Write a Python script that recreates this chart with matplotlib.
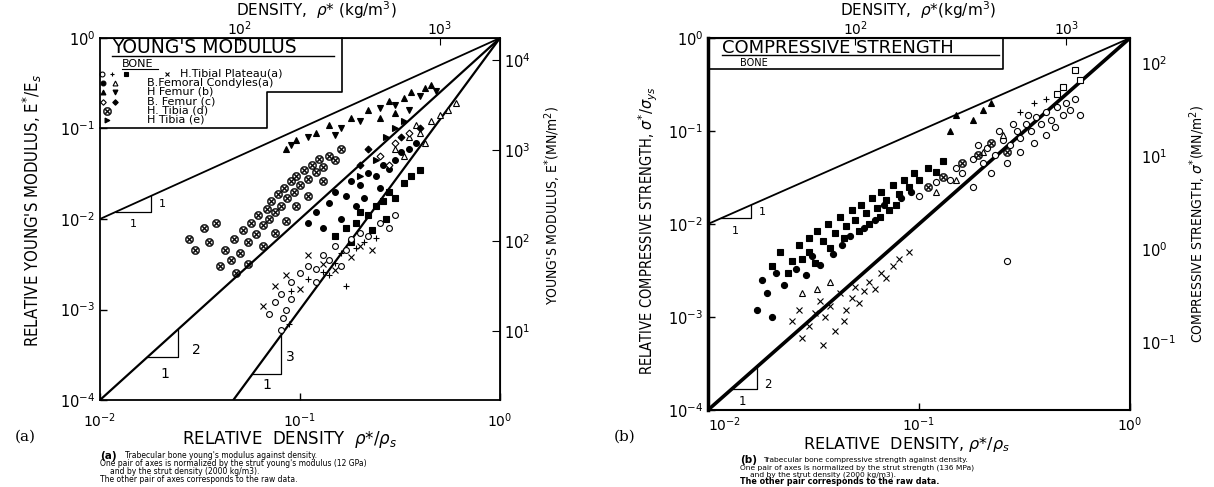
import matplotlib
matplotlib.use("Agg")
import matplotlib.pyplot as plt
from matplotlib.ticker import NullLocator, FixedLocator, LogFormatterSciNotation

W, H = 1214, 487

# ---------------- data: panel (a) Young's modulus (x = rho*/rho_s, y = E*/E_s) ----------------
a_tibia_d_x = [0.028, 0.030, 0.033, 0.035, 0.038, 0.040, 0.042, 0.045, 0.047, 0.050, 0.052, 0.055,
               0.057, 0.060, 0.062, 0.065, 0.068, 0.070, 0.072, 0.075, 0.078, 0.080, 0.083, 0.086,
               0.090, 0.093, 0.096, 0.100, 0.105, 0.110, 0.115, 0.120, 0.125, 0.130, 0.140, 0.150,
               0.160, 0.048, 0.055, 0.065, 0.075, 0.085, 0.095, 0.110, 0.130]
a_tibia_d_y = [0.0060, 0.0045, 0.0080, 0.0055, 0.0090, 0.0030, 0.0045, 0.0035, 0.0060, 0.0042, 0.0075, 0.0055,
               0.0090, 0.0068, 0.011, 0.0085, 0.013, 0.0100, 0.016, 0.012, 0.019, 0.014, 0.022, 0.017,
               0.026, 0.020, 0.030, 0.024, 0.035, 0.028, 0.040, 0.033, 0.046, 0.038, 0.050, 0.045,
               0.060, 0.0025, 0.0032, 0.0050, 0.0070, 0.0095, 0.014, 0.018, 0.026]
a_femur_b_up_x = [0.085, 0.095, 0.12, 0.14, 0.18, 0.22, 0.28, 0.33, 0.36, 0.42, 0.45, 0.25, 0.30]
a_femur_b_up_y = [0.060, 0.075, 0.090, 0.110, 0.130, 0.160, 0.200, 0.220, 0.250, 0.280, 0.300, 0.130, 0.150]
a_femur_b_dn_x = [0.090, 0.11, 0.16, 0.20, 0.25, 0.30, 0.40, 0.35, 0.15, 0.48]
a_femur_b_dn_y = [0.065, 0.080, 0.100, 0.120, 0.170, 0.180, 0.230, 0.160, 0.085, 0.260]
a_condyles_x = [0.12, 0.14, 0.15, 0.17, 0.18, 0.20, 0.22, 0.24, 0.26, 0.28, 0.30, 0.32, 0.35, 0.38,
                0.16, 0.19, 0.21, 0.25, 0.13, 0.11]
a_condyles_y = [0.012, 0.015, 0.020, 0.018, 0.026, 0.024, 0.032, 0.030, 0.040, 0.036, 0.045, 0.055, 0.060, 0.070,
                0.010, 0.014, 0.017, 0.022, 0.008, 0.009]
a_plateau_sq_x = [0.15, 0.17, 0.19, 0.20, 0.22, 0.24, 0.26, 0.28, 0.30, 0.33, 0.36, 0.40, 0.18, 0.23, 0.27]
a_plateau_sq_y = [0.0065, 0.0080, 0.0090, 0.012, 0.011, 0.014, 0.016, 0.020, 0.017, 0.025, 0.030, 0.035,
                  0.0055, 0.0075, 0.0100]
a_plateau_o_x = [0.070, 0.075, 0.080, 0.090, 0.10, 0.11, 0.12, 0.13, 0.14, 0.15, 0.17, 0.18, 0.20, 0.22,
                 0.25, 0.28, 0.30, 0.12, 0.16, 0.09, 0.082, 0.085, 0.080]
a_plateau_o_y = [0.0009, 0.0012, 0.0015, 0.0020, 0.0025, 0.0030, 0.0028, 0.0040, 0.0035, 0.0050, 0.0045, 0.0060,
                 0.0070, 0.0065, 0.0090, 0.0080, 0.0110, 0.0020, 0.0030, 0.0013, 0.0008, 0.0010, 0.0006]
a_plateau_plus_x = [0.09, 0.11, 0.13, 0.15, 0.16, 0.19, 0.21, 0.24, 0.17, 0.14, 0.088]
a_plateau_plus_y = [0.0016, 0.0022, 0.0026, 0.0033, 0.0042, 0.0048, 0.0055, 0.0062, 0.0018, 0.0024, 0.0007]
a_plateau_x_x = [0.065, 0.075, 0.085, 0.10, 0.11, 0.13, 0.15, 0.18, 0.20, 0.23]
a_plateau_x_y = [0.0011, 0.0018, 0.0024, 0.0017, 0.0040, 0.0032, 0.0027, 0.0038, 0.0050, 0.0045]
a_condyles_tri_x = [0.30, 0.35, 0.40, 0.45, 0.50, 0.38, 0.42, 0.33, 0.55, 0.60]
a_condyles_tri_y = [0.060, 0.080, 0.090, 0.120, 0.140, 0.110, 0.070, 0.050, 0.160, 0.190]
a_femur_c_open_x = [0.25, 0.30, 0.35, 0.28]
a_femur_c_open_y = [0.050, 0.070, 0.090, 0.040]
a_femur_c_fill_x = [0.20, 0.22, 0.32, 0.40]
a_femur_c_fill_y = [0.040, 0.060, 0.080, 0.100]
a_tibia_e_x = [0.20, 0.24, 0.30, 0.27, 0.33]
a_tibia_e_y = [0.030, 0.045, 0.100, 0.080, 0.120]

# ---------------- data: panel (b) compressive strength (x = rho*/rho_s, y = sigma*/sigma_ys) ----------------
b_sq_x = [0.020, 0.022, 0.025, 0.027, 0.030, 0.030, 0.033, 0.035, 0.037, 0.040, 0.042, 0.045, 0.048, 0.050,
          0.053, 0.056, 0.060, 0.063, 0.066, 0.070, 0.075, 0.080, 0.085, 0.090, 0.095, 0.10, 0.11, 0.12,
          0.13, 0.024, 0.028, 0.032, 0.038, 0.044, 0.052, 0.058, 0.065, 0.072, 0.078]
b_sq_y = [0.0035, 0.0050, 0.0040, 0.0060, 0.0070, 0.0050, 0.0085, 0.0065, 0.010, 0.0080, 0.012, 0.0095, 0.014,
          0.011, 0.016, 0.013, 0.019, 0.015, 0.022, 0.018, 0.026, 0.021, 0.030, 0.025, 0.035, 0.030, 0.040,
          0.036, 0.048, 0.0030, 0.0042, 0.0038, 0.0055, 0.0070, 0.0085, 0.010, 0.012, 0.014, 0.016]
b_dot_x = [0.018, 0.019, 0.021, 0.023, 0.026, 0.029, 0.031, 0.034, 0.039, 0.043, 0.047, 0.055, 0.062,
           0.068, 0.082, 0.092, 0.017, 0.020]
b_dot_y = [0.0025, 0.0018, 0.0030, 0.0022, 0.0033, 0.0028, 0.0045, 0.0036, 0.0048, 0.0060, 0.0075, 0.0090,
           0.011, 0.016, 0.019, 0.022, 0.0012, 0.0010]
b_cross_x = [0.025, 0.027, 0.030, 0.032, 0.034, 0.036, 0.038, 0.040, 0.042, 0.045, 0.048, 0.050, 0.052,
             0.055, 0.058, 0.062, 0.066, 0.070, 0.028, 0.035, 0.044, 0.075, 0.080, 0.090]
b_cross_y = [0.0009, 0.0012, 0.0008, 0.0011, 0.0015, 0.0010, 0.0013, 0.0007, 0.0018, 0.0012, 0.0016, 0.0021,
             0.0014, 0.0019, 0.0024, 0.0020, 0.0030, 0.0026, 0.0006, 0.0005, 0.0009, 0.0035, 0.0042, 0.0050]
b_circ_x = [0.10, 0.12, 0.14, 0.15, 0.16, 0.18, 0.20, 0.21, 0.23, 0.25, 0.27, 0.29, 0.30, 0.32, 0.34, 0.36,
            0.38, 0.40, 0.42, 0.45, 0.48, 0.50, 0.52, 0.22, 0.26, 0.30, 0.35, 0.40, 0.33, 0.28, 0.24, 0.19,
            0.55, 0.18, 0.26, 0.44, 0.58]
b_circ_y = [0.020, 0.028, 0.030, 0.040, 0.035, 0.050, 0.045, 0.065, 0.055, 0.080, 0.070, 0.100, 0.085, 0.120,
            0.100, 0.140, 0.120, 0.160, 0.130, 0.180, 0.150, 0.200, 0.170, 0.035, 0.045, 0.060, 0.075, 0.090,
            0.150, 0.120, 0.100, 0.070, 0.220, 0.025, 0.004, 0.110, 0.150]
b_tri_open_x = [0.028, 0.033, 0.038, 0.12, 0.15, 0.20, 0.25]
b_tri_open_y = [0.0018, 0.0020, 0.0024, 0.022, 0.030, 0.060, 0.090]
b_otimes_x = [0.11, 0.13, 0.16, 0.19, 0.22, 0.26]
b_otimes_y = [0.025, 0.032, 0.045, 0.055, 0.075, 0.060]
b_tri_fill_x = [0.15, 0.18, 0.22, 0.20, 0.14]
b_tri_fill_y = [0.150, 0.130, 0.200, 0.170, 0.100]
b_sq_open_x = [0.55, 0.58, 0.48, 0.45]
b_sq_open_y = [0.450, 0.350, 0.300, 0.250]
b_plus_x = [0.35, 0.40, 0.30]
b_plus_y = [0.200, 0.220, 0.160]

decade_ticks = [1e-4, 1e-3, 1e-2, 1e-1, 1]
x_ticks = [0.01, 0.1, 1]
rho_s = 2000.0        # kg/m3
E_axis_scale = 17500.0  # MN/m2 (as drawn on the right-hand axis)
S_axis_scale = 186.0    # MN/m2 (as drawn on the right-hand axis)

fig = plt.figure(figsize=(W / 100, H / 100), dpi=100)
fig.patch.set_facecolor("white")


def rect(l, t, r, b):
    return [l / W, 1 - b / H, (r - l) / W, (b - t) / H]


def ftext(x, y, s, **kw):
    kw.setdefault("ha", "center")
    kw.setdefault("va", "center")
    fig.text(x / W, 1 - y / H, s, **kw)


COND = dict(family="DejaVu Sans", fontstretch="condensed")


def style_axes(ax, lw, pad):
    ax.set_xscale("log")
    ax.set_yscale("log")
    ax.set_xlim(0.01, 1)
    ax.set_ylim(1e-4, 1)
    ax.set_xticks(x_ticks)
    ax.set_yticks(decade_ticks)
    ax.xaxis.set_minor_locator(NullLocator())
    ax.yaxis.set_minor_locator(NullLocator())
    ax.tick_params(direction="in", length=5, width=1, labelsize=10.5, colors="black")
    ax.tick_params(axis="x", pad=pad, labelsize=10)
    for s in ax.spines.values():
        s.set_linewidth(lw)


def pts(ax, x, y, marker, filled=True, ms=4.2, mew=0.8):
    ax.plot(x, y, ls="none", marker=marker, ms=ms, mec="black",
            mfc="black" if filled else "white", mew=mew, zorder=3)


# ======================= panel (a) =======================
axL = fig.add_axes(rect(100, 38, 500, 400))
style_axes(axL, 1.3, 8)

axL.plot([0.01, 1], [0.01, 1], color="black", lw=1.3)
axL.plot([0.01, 1], [1e-4, 1], color="black", lw=1.6)
axL.plot([1e-4 ** (1 / 3), 1], [1e-4, 1], color="black", lw=1.6)

pts(axL, a_tibia_d_x, a_tibia_d_y, r"$\otimes$", filled=True, ms=6, mew=0.3)
pts(axL, a_femur_b_up_x, a_femur_b_up_y, "^")
pts(axL, a_femur_b_dn_x, a_femur_b_dn_y, "v")
pts(axL, a_condyles_x, a_condyles_y, "o")
pts(axL, a_plateau_sq_x, a_plateau_sq_y, "s", ms=3.8)
pts(axL, a_plateau_o_x, a_plateau_o_y, "o", filled=False)
pts(axL, a_plateau_plus_x, a_plateau_plus_y, "+", ms=4.5)
pts(axL, a_plateau_x_x, a_plateau_x_y, "x", ms=4)
pts(axL, a_condyles_tri_x, a_condyles_tri_y, "^", filled=False)
pts(axL, a_femur_c_open_x, a_femur_c_open_y, "D", filled=False, ms=3.5)
pts(axL, a_femur_c_fill_x, a_femur_c_fill_y, "D", ms=3.5)
pts(axL, a_tibia_e_x, a_tibia_e_y, ">")

# slope triangles
axL.plot([0.012, 0.018, 0.018], [0.012, 0.012, 0.018], color="black", lw=0.9)
axL.text(0.0147, 0.0088, "1", fontsize=8, ha="center", va="center")
axL.text(0.0205, 0.0145, "1", fontsize=8, ha="center", va="center")
axL.plot([0.0172, 0.0245, 0.0245], [0.0172 ** 2, 0.0172 ** 2, 0.0245 ** 2], color="black", lw=0.9)
axL.text(0.0305, 3.6e-4, "2", fontsize=10, ha="center", va="center")
axL.text(0.0211, 1.95e-4, "1", fontsize=10, ha="center", va="center")
axL.plot([0.058, 0.080, 0.080], [0.058 ** 3, 0.058 ** 3, 0.080 ** 3], color="black", lw=0.9)
axL.text(0.089, 3.0e-4, "3", fontsize=10, ha="center", va="center")
axL.text(0.068, 1.45e-4, "1", fontsize=10, ha="center", va="center")

# legend box
bx = [0.605, 0.605, 0.4175, 0.4175, 0.0]
by = [1.0, 0.851, 0.851, 0.751, 0.751]
axL.plot(bx, by, color="black", lw=1.2, transform=axL.transAxes, clip_on=False)
axL.text(0.03, 0.975, "YOUNG'S MODULUS", transform=axL.transAxes, fontsize=13.5, va="center", ha="left")
axL.plot([0.03, 0.585], [0.949, 0.949], color="black", lw=1, transform=axL.transAxes)
axL.text(0.055, 0.929, "BONE", transform=axL.transAxes, fontsize=8, va="center", ha="left")
axL.plot([0.055, 0.145], [0.915, 0.915], color="black", lw=0.8, transform=axL.transAxes)
rows_y = [0.901, 0.875, 0.851, 0.824, 0.799, 0.774]
legend_rows = [
    ([(0.006, "o", False), (0.030, "+", True), (0.066, "s", True), (0.168, "x", True)], 0.20, "H.Tibial Plateau(a)"),
    ([(0.008, "o", True), (0.038, "^", False)], 0.118, "B.Femoral Condyles(a)"),
    ([(0.008, "^", True), (0.038, "v", True)], 0.118, "H Femur (b)"),
    ([(0.008, "D", False), (0.038, "D", True)], 0.118, "B. Femur (c)"),
    ([(0.018, r"$\otimes$", True)], 0.118, "H. Tibia (d)"),
    ([(0.018, ">", True)], 0.118, "H Tibia (e)"),
]
for (syms, tx, label), yy in zip(legend_rows, rows_y):
    for sx, m, f in syms:
        ms = 6 if m.startswith("$") else (2.8 if m == "D" else 3.5)
        axL.plot([sx], [yy], ls="none", marker=m, ms=ms, mec="black", mfc="black" if f else "white",
                 mew=0.3 if m.startswith("$") else 0.8, transform=axL.transAxes, clip_on=False)
    axL.text(tx, yy, label, transform=axL.transAxes, fontsize=8, va="center", ha="left")

secL_x = axL.secondary_xaxis("top", functions=(lambda x: x * rho_s, lambda d: d / rho_s))
secL_x.xaxis.set_major_locator(FixedLocator([1e2, 1e3]))
secL_x.xaxis.set_major_formatter(LogFormatterSciNotation())
secL_x.xaxis.set_minor_locator(NullLocator())
secL_x.tick_params(direction="in", length=5, labelsize=10, pad=0)
secL_y = axL.secondary_yaxis("right", functions=(lambda y: y * E_axis_scale, lambda e: e / E_axis_scale))
secL_y.yaxis.set_major_locator(FixedLocator([1e1, 1e2, 1e3, 1e4]))
secL_y.yaxis.set_major_formatter(LogFormatterSciNotation())
secL_y.yaxis.set_minor_locator(NullLocator())
secL_y.tick_params(direction="in", length=6, labelsize=10.5, pad=3)

# ======================= panel (b) =======================
axR = fig.add_axes(rect(708, 38, 1130, 410))
style_axes(axR, 1.5, 4)
axR.spines["left"].set_linewidth(2.5)
axR.xaxis.get_major_ticks()[0].label1.set_horizontalalignment("left")

axR.plot([0.01, 1], [0.01, 1], color="black", lw=1.3)
axR.plot([0.01, 1], [1e-4, 1], color="black", lw=2.6)

pts(axR, b_sq_x, b_sq_y, "s", ms=4)
pts(axR, b_dot_x, b_dot_y, "o", ms=4.4)
pts(axR, b_cross_x, b_cross_y, "x", ms=4.5)
pts(axR, b_circ_x, b_circ_y, "o", filled=False, ms=4.4)
pts(axR, b_tri_open_x, b_tri_open_y, "^", filled=False, ms=3.8)
pts(axR, b_otimes_x, b_otimes_y, r"$\otimes$", ms=6, mew=0.3)
pts(axR, b_tri_fill_x, b_tri_fill_y, "^", ms=4)
pts(axR, b_sq_open_x, b_sq_open_y, "s", filled=False, ms=3.8)
pts(axR, b_plus_x, b_plus_y, "+", ms=4.5)

axR.plot([0.0115, 0.016, 0.016], [0.0115, 0.0115, 0.016], color="black", lw=0.9)
axR.text(0.0135, 0.0085, "1", fontsize=8, ha="center", va="center")
axR.text(0.018, 0.0135, "1", fontsize=8, ha="center", va="center")
axR.plot([0.013, 0.0171, 0.0171], [0.013 ** 2, 0.013 ** 2, 0.0171 ** 2], color="black", lw=0.9)
axR.text(0.0192, 1.9e-4, "2", fontsize=8.5, ha="center", va="center")
axR.text(0.0146, 1.22e-4, "1", fontsize=8.5, ha="center", va="center")

axR.plot([0.0, 0.699, 0.699], [0.917, 0.917, 1.0], color="black", lw=1.2, transform=axR.transAxes, clip_on=False)
axR.text(0.033, 0.972, "COMPRESSIVE STRENGTH", transform=axR.transAxes, fontsize=13, va="center", ha="left")
axR.plot([0.033, 0.69], [0.953, 0.953], color="black", lw=1, transform=axR.transAxes)
axR.text(0.076, 0.934, "BONE", transform=axR.transAxes, fontsize=7, va="center", ha="left")

secR_x = axR.secondary_xaxis("top", functions=(lambda x: x * rho_s, lambda d: d / rho_s))
secR_x.xaxis.set_major_locator(FixedLocator([1e2, 1e3]))
secR_x.xaxis.set_major_formatter(LogFormatterSciNotation())
secR_x.xaxis.set_minor_locator(NullLocator())
secR_x.tick_params(direction="in", length=5, labelsize=10, pad=0)
secR_y = axR.secondary_yaxis("right", functions=(lambda y: y * S_axis_scale, lambda s: s / S_axis_scale))
secR_y.yaxis.set_major_locator(FixedLocator([1e-1, 1e0, 1e1, 1e2]))
secR_y.yaxis.set_major_formatter(LogFormatterSciNotation())
secR_y.yaxis.set_minor_locator(NullLocator())
secR_y.tick_params(direction="in", length=0, labelsize=10.5, pad=8)

# ======================= labels =======================
ftext(316, 21, r"DENSITY,  $\rho$* (kg/m$^3$)", fontsize=11, va="bottom")
ftext(918, 21, r"DENSITY,  $\rho$*(kg/m$^3$)", fontsize=11, va="bottom")
ftext(290, 440, r"RELATIVE  DENSITY  $\rho$*/$\rho_s$", fontsize=12)
ftext(907, 444, r"RELATIVE  DENSITY, $\rho$*/$\rho_s$", fontsize=11.5)
ftext(32, 210, r"RELATIVE YOUNG'S MODULUS, E$^{*}$/E$_s$", rotation=90, fontsize=12, **COND)
ftext(553, 205, r"YOUNG'S MODULUS, E$^{*}$(MN/m$^2$)", rotation=90, fontsize=10, **COND)
ftext(648, 231, r"RELATIVE COMPRESSIVE STRENGTH, $\sigma^{*}/\sigma_{ys}$", rotation=90, fontsize=10.5, **COND)
ftext(1198, 224, r"COMPRESSIVE STRENGTH, $\sigma^{*}$(MN/m$^2$)", rotation=90, fontsize=10, **COND)

ftext(25, 437, "(a)", fontsize=11, family="DejaVu Serif")
ftext(625, 437, "(b)", fontsize=11, family="DejaVu Serif")

ftext(100, 456, "(a)", fontsize=7.5, fontweight="bold", ha="left")
ftext(125, 456, "Trabecular bone young's modulus against density.", fontsize=5.5, ha="left")
ftext(100, 464, "One pair of axes is normalized by the strut young's modulus (12 GPa)", fontsize=5.5, ha="left")
ftext(110, 471.5, "and by the strut density (2000 kg/m3).", fontsize=5.5, ha="left")
ftext(100, 479, "The other pair of axes corresponds to the raw data.", fontsize=5.5, ha="left")

ftext(740, 460, "(b)", fontsize=7.5, fontweight="bold", ha="left")
ftext(763, 460, "Trabecular bone compressive strength against density.", fontsize=5.4, ha="left")
ftext(740, 467.5, "One pair of axes is normalized by the strut strength (136 MPa)", fontsize=5.4, ha="left")
ftext(750, 475, "and by the strut density (2000 kg/m3).", fontsize=5.4, ha="left")
ftext(740, 482, "The other pair corresponds to the raw data.", fontsize=5.8, fontweight="bold", ha="left")

fig.savefig("out.png", dpi=100, facecolor="white")
